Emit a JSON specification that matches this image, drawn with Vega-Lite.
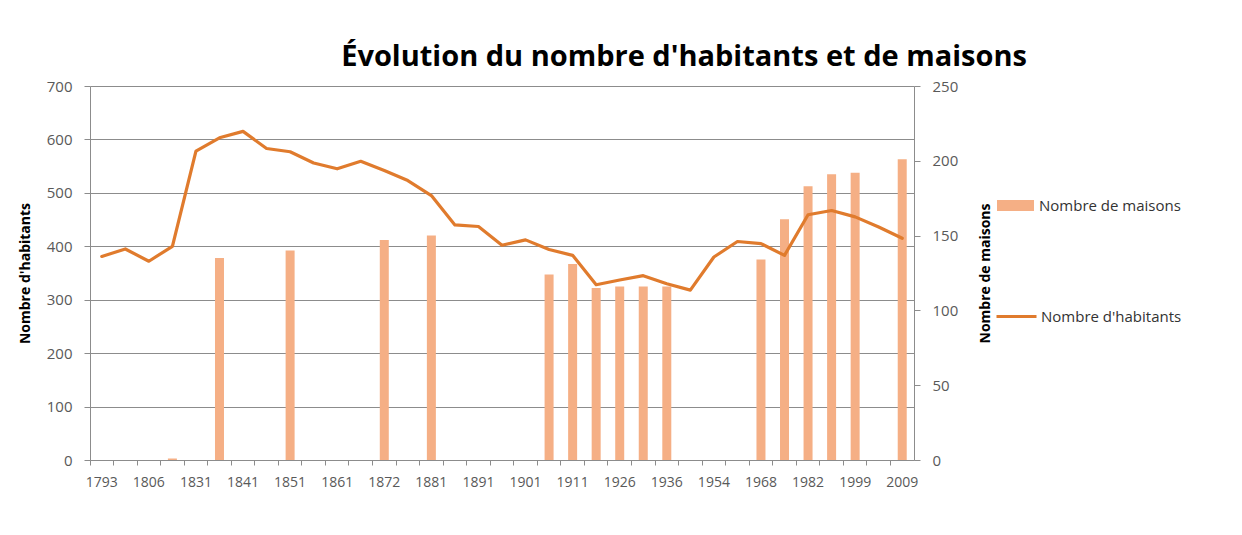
{
  "$schema": "https://vega.github.io/schema/vega-lite/v6.json",
  "width": 824,
  "height": 374,
  "autosize": {"type": "none"},
  "padding": {"left": 90, "top": 86, "right": 328, "bottom": 75},
  "background": "white",
  "title": {
    "text": "Évolution du nombre d'habitants et de maisons",
    "font": "Open Sans",
    "fontSize": 29,
    "fontWeight": "bold",
    "color": "#000000",
    "anchor": "middle",
    "dx": 182,
    "offset": 7
  },
  "config": {
    "view": {"stroke": null},
    "font": "Open Sans",
    "axis": {"labelFont": "Open Sans", "titleFont": "Open Sans"},
    "legend": {"labelFont": "Open Sans"}
  },
  "data": {
    "values": [
      {"annee": "1793", "habitants": 381, "maisons": null},
      {"annee": "1800", "habitants": 395, "maisons": null},
      {"annee": "1806", "habitants": 372, "maisons": null},
      {"annee": "1821", "habitants": 400, "maisons": 1},
      {"annee": "1831", "habitants": 578, "maisons": null},
      {"annee": "1836", "habitants": 603, "maisons": 135},
      {"annee": "1841", "habitants": 615, "maisons": null},
      {"annee": "1846", "habitants": 583, "maisons": null},
      {"annee": "1851", "habitants": 577, "maisons": 140},
      {"annee": "1856", "habitants": 556, "maisons": null},
      {"annee": "1861", "habitants": 545, "maisons": null},
      {"annee": "1866", "habitants": 559, "maisons": null},
      {"annee": "1872", "habitants": 542, "maisons": 147},
      {"annee": "1876", "habitants": 523, "maisons": null},
      {"annee": "1881", "habitants": 495, "maisons": 150},
      {"annee": "1886", "habitants": 440, "maisons": null},
      {"annee": "1891", "habitants": 437, "maisons": null},
      {"annee": "1896", "habitants": 402, "maisons": null},
      {"annee": "1901", "habitants": 412, "maisons": null},
      {"annee": "1906", "habitants": 394, "maisons": 124},
      {"annee": "1911", "habitants": 383, "maisons": 131},
      {"annee": "1921", "habitants": 328, "maisons": 115},
      {"annee": "1926", "habitants": 337, "maisons": 116},
      {"annee": "1931", "habitants": 345, "maisons": 116},
      {"annee": "1936", "habitants": 330, "maisons": 116},
      {"annee": "1946", "habitants": 318, "maisons": null},
      {"annee": "1954", "habitants": 380, "maisons": null},
      {"annee": "1962", "habitants": 409, "maisons": null},
      {"annee": "1968", "habitants": 405, "maisons": 134},
      {"annee": "1975", "habitants": 383, "maisons": 161},
      {"annee": "1982", "habitants": 459, "maisons": 183},
      {"annee": "1990", "habitants": 467, "maisons": 191},
      {"annee": "1999", "habitants": 455, "maisons": 192},
      {"annee": "2006", "habitants": 436, "maisons": null},
      {"annee": "2009", "habitants": 415, "maisons": 201}
    ]
  },
  "encoding": {
    "x": {
      "field": "annee",
      "type": "ordinal",
      "sort": null,
      "scale": {
        "domain": ["1793","1800","1806","1821","1831","1836","1841","1846","1851","1856","1861","1866","1872","1876","1881","1886","1891","1896","1901","1906","1911","1921","1926","1931","1936","1946","1954","1962","1968","1975","1982","1990","1999","2006","2009"],
        "paddingInner": 0,
        "paddingOuter": 0
      },
      "axis": {
        "title": null,
        "bandPosition": 0,
        "labelAngle": 0,
        "labelOverlap": false,
        "labelExpr": "indexof(['1793','1806','1831','1841','1851','1861','1872','1881','1891','1901','1911','1926','1936','1954','1968','1982','1999','2009'], datum.label) >= 0 ? datum.label : ''",
        "labelFontSize": 14,
        "labelColor": "#595959",
        "labelPadding": 10,
        "tickSize": 5,
        "tickColor": "#8c8c8c",
        "domainColor": "#8c8c8c",
        "grid": false
      }
    }
  },
  "layer": [
    {
      "mark": {"type": "bar", "width": 9},
      "encoding": {
        "y": {
          "field": "maisons",
          "type": "quantitative",
          "scale": {"domain": [0, 250], "nice": false},
          "axis": {
            "orient": "right",
            "title": "Nombre de maisons",
            "titleFontSize": 14,
            "titleFontWeight": "bold",
            "titleColor": "#000000",
            "titleAngle": 270,
            "titleBaseline": "middle",
            "titleX": 71,
            "values": [0, 50, 100, 150, 200, 250],
            "grid": false,
            "labelFontSize": 15,
            "labelColor": "#595959",
            "labelPadding": 12,
            "tickSize": 6,
            "tickColor": "#8c8c8c",
            "domainColor": "#8c8c8c"
          }
        },
        "fill": {
          "datum": "Nombre de maisons",
          "scale": {"range": ["#F5AF85"]},
          "legend": {
            "title": null,
            "orient": "none",
            "legendX": 907,
            "legendY": 101,
            "padding": 0,
            "symbolType": "M-1,-0.3H1V0.3H-1Z",
            "symbolSize": 1369,
            "symbolStrokeWidth": 0,
            "labelOffset": 5,
            "labelFontSize": 15,
            "labelColor": "#333333"
          }
        }
      }
    },
    {
      "mark": {"type": "line", "strokeWidth": 3.2, "strokeJoin": "round", "strokeCap": "round"},
      "encoding": {
        "y": {
          "field": "habitants",
          "type": "quantitative",
          "scale": {"domain": [0, 700], "nice": false},
          "axis": {
            "orient": "left",
            "title": "Nombre d'habitants",
            "titleFontSize": 14,
            "titleFontWeight": "bold",
            "titleColor": "#000000",
            "titleAngle": 270,
            "titleBaseline": "middle",
            "titleX": -65,
            "values": [0, 100, 200, 300, 400, 500, 600, 700],
            "grid": true,
            "gridColor": "#8c8c8c",
            "gridWidth": 1,
            "labelFontSize": 15,
            "labelColor": "#595959",
            "labelPadding": 12,
            "tickSize": 6,
            "tickColor": "#8c8c8c",
            "domainColor": "#8c8c8c"
          }
        },
        "stroke": {
          "datum": "Nombre d'habitants",
          "scale": {"range": ["#E07B2D"]},
          "legend": {
            "title": null,
            "orient": "none",
            "legendX": 905,
            "legendY": 209,
            "padding": 0,
            "symbolType": "stroke",
            "symbolSize": 1600,
            "symbolStrokeWidth": 3,
            "labelOffset": 3,
            "labelFontSize": 15,
            "labelColor": "#333333"
          }
        }
      }
    }
  ],
  "resolve": {"scale": {"y": "independent"}}
}
